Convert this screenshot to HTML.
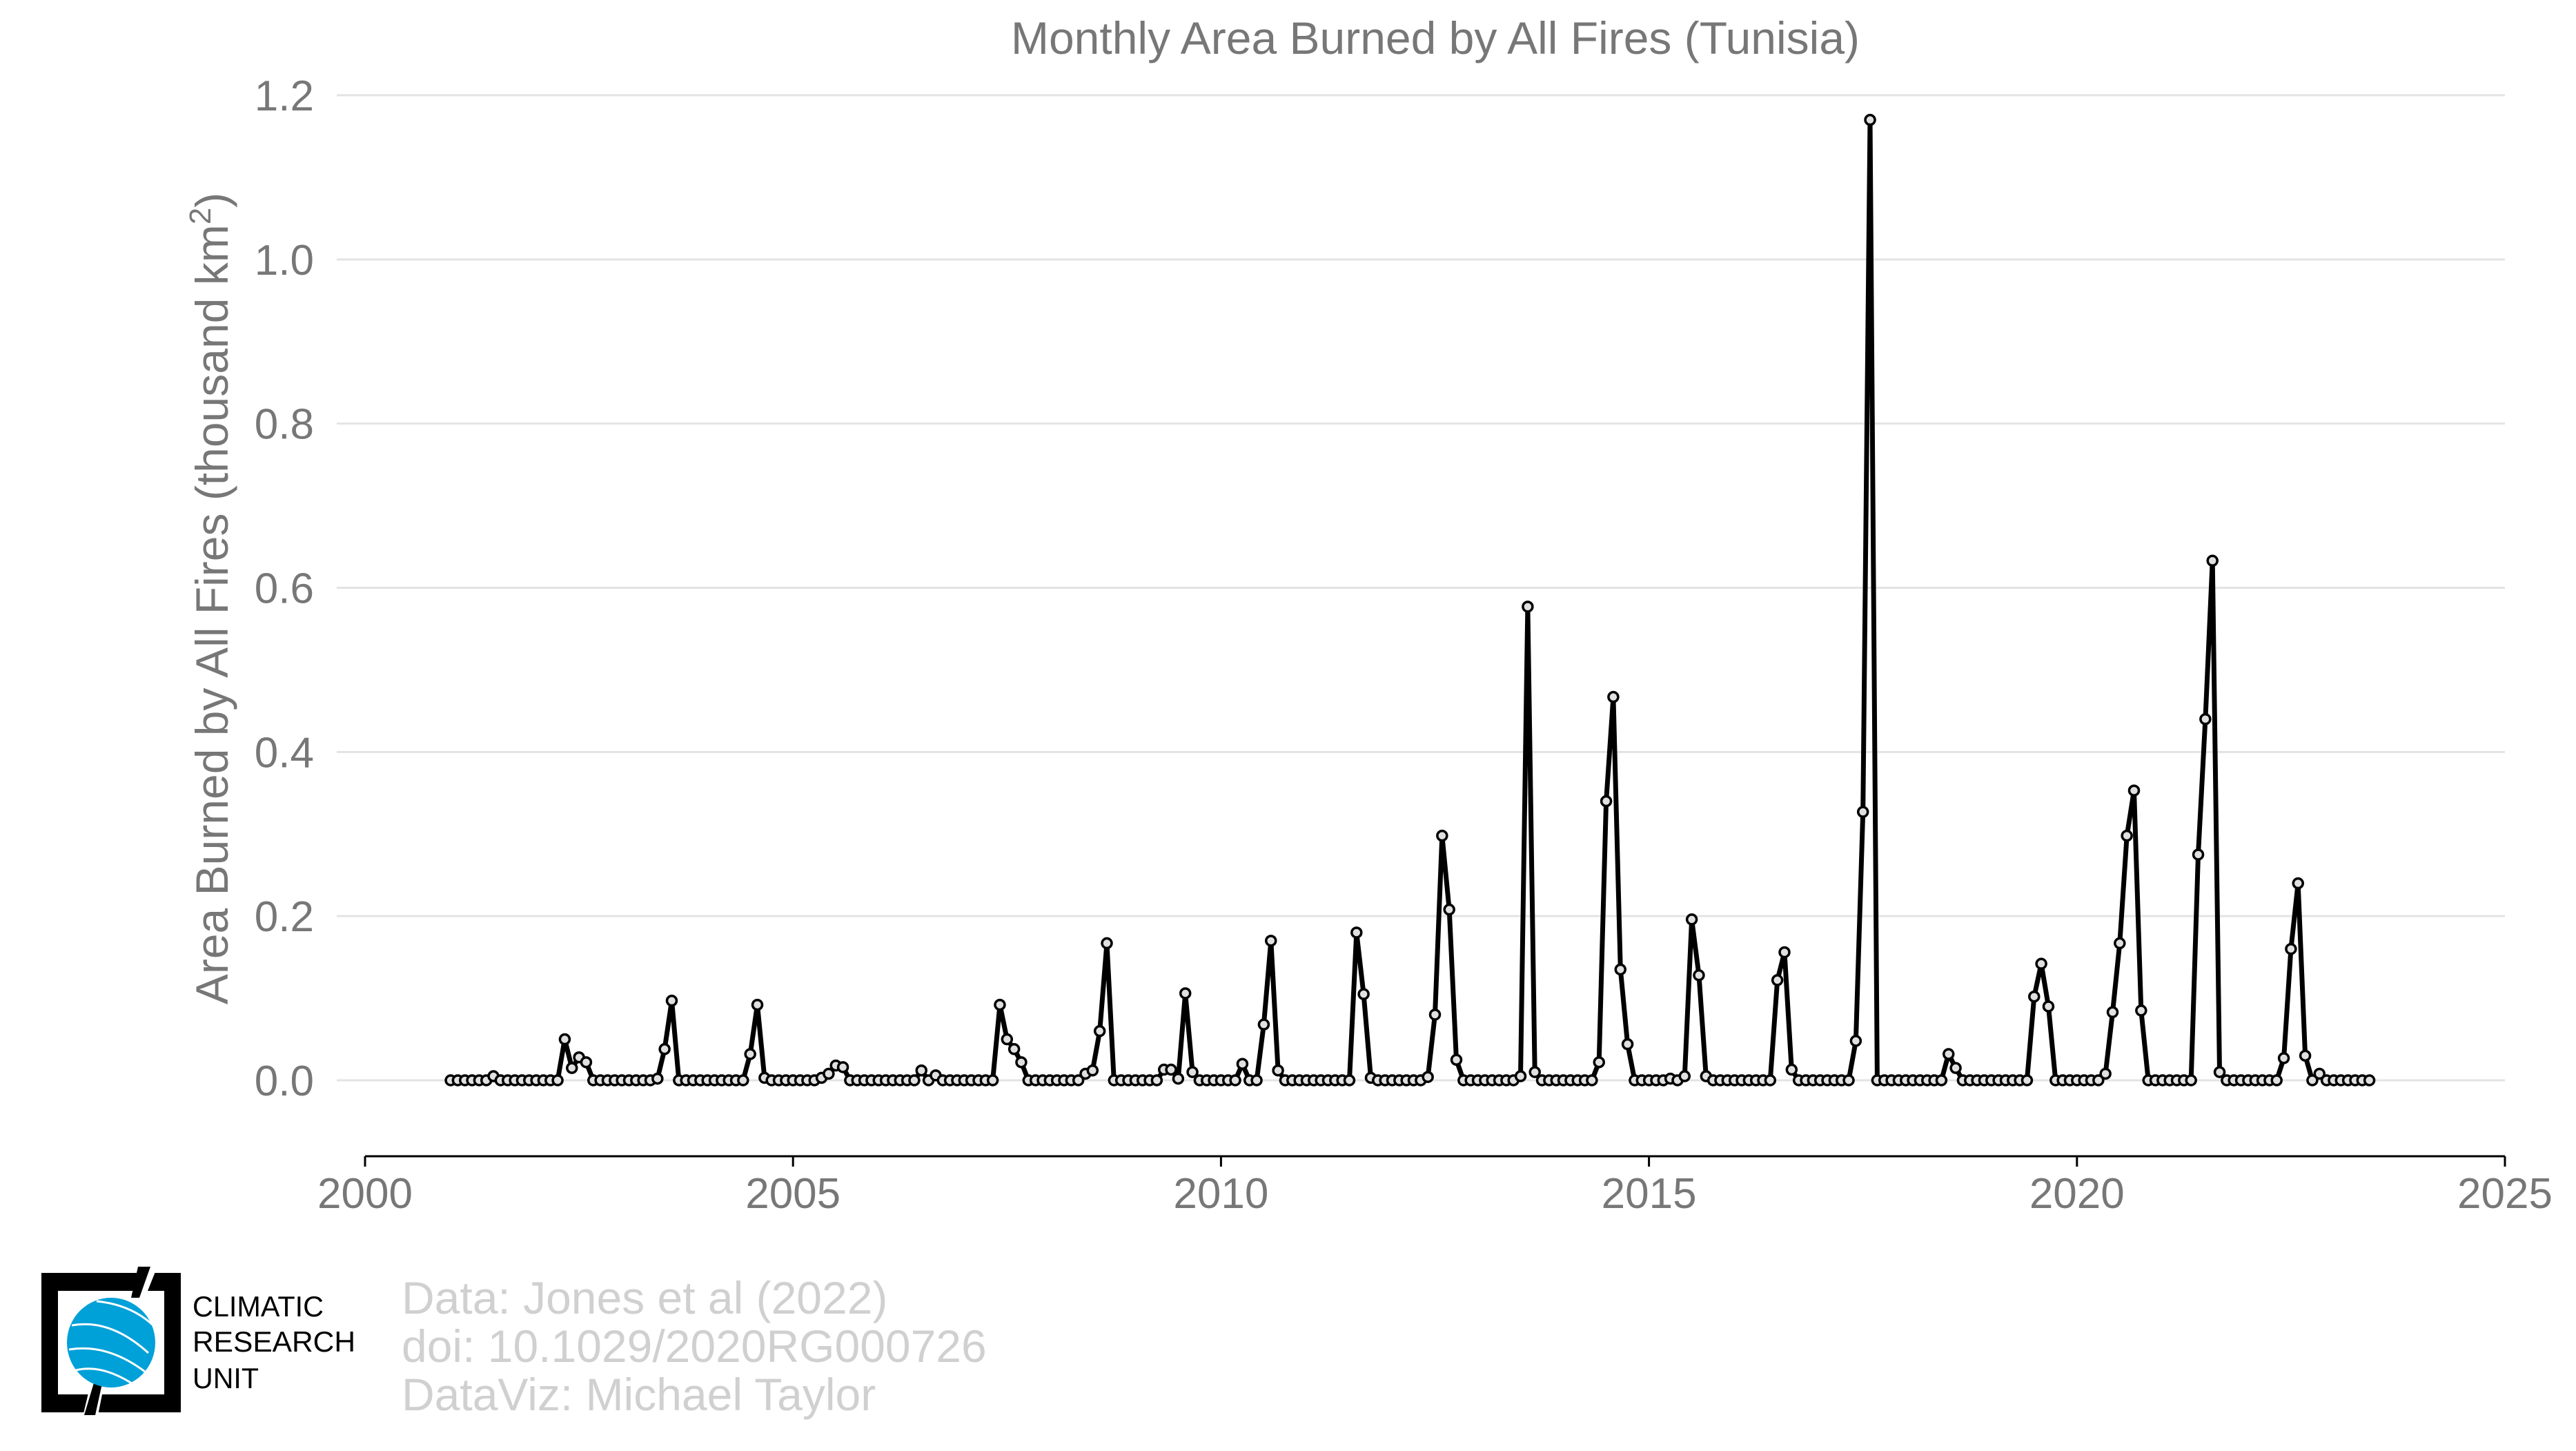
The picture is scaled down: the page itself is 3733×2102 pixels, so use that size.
<!DOCTYPE html>
<html><head><meta charset="utf-8"><style>
html,body{margin:0;padding:0;background:#fff;}
svg{display:block;font-family:"Liberation Sans",sans-serif;}
</style></head><body>
<svg id="chart" width="3733" height="2102" viewBox="0 0 3733 2102" xmlns="http://www.w3.org/2000/svg">
<rect width="3733" height="2102" fill="#fff"/>
<text x="2080" y="78" font-size="66" fill="#777" text-anchor="middle">Monthly Area Burned by All Fires (Tunisia)</text>
<g id="grid"></g>
<g id="yticks"></g>
<line x1="529" y1="1675" x2="3630" y2="1675" stroke="#000" stroke-width="3"/>
<g id="xticks"></g>
<text transform="translate(330,867) rotate(-90)" font-size="66" fill="#777" text-anchor="middle">Area Burned by All Fires (thousand km<tspan font-size="44" dy="-25">2</tspan><tspan dy="25">)</tspan></text>
<path id="line" fill="none" stroke="#000" stroke-width="7" stroke-linejoin="round"/>
<g id="points"></g>
<g>
<path d="M60,1844 H262 V2046 H60 Z M84,1870 V2020 H238 V1870 Z" fill="#000" fill-rule="evenodd"/>
<polygon points="200,1835 228,1835 210,1880 196,1880" fill="#fff"/>
<polygon points="200,1835 218,1835 202,1880 190,1880" fill="#000"/>
<polygon points="130,2010 150,2010 140,2060 118,2060" fill="#fff"/>
<polygon points="137,2000 149,2000 138,2050 122,2050" fill="#000"/>
<ellipse cx="161" cy="1945" rx="64" ry="65" fill="#00a0d8"/>
<path d="M104,1920 Q160,1910 215,1960 M100,1955 Q160,1945 220,1995 M110,1985 Q150,1975 200,2010 M140,1885 Q190,1890 222,1920" stroke="#fff" stroke-width="3" fill="none"/>
</g>
<text x="279" y="1907" font-size="42" fill="#000" textLength="190" lengthAdjust="spacingAndGlyphs">CLIMATIC</text>
<text x="279" y="1958" font-size="42" fill="#000" textLength="236" lengthAdjust="spacingAndGlyphs">RESEARCH</text>
<text x="279" y="2011" font-size="42" fill="#000" textLength="96" lengthAdjust="spacingAndGlyphs">UNIT</text>
<text x="582" y="1903" font-size="66" fill="#d0d0d0">Data: Jones et al (2022)</text>
<text x="582" y="1973" font-size="66" fill="#d0d0d0">doi: 10.1029/2020RG000726</text>
<text x="582" y="2043" font-size="66" fill="#d0d0d0">DataViz: Michael Taylor</text>
</svg>
<script>
const startYear = 2001;
const yTicks = [0, 0.2, 0.4, 0.6, 0.8, 1.0, 1.2];
const yTickLabels = ["0.0", "0.2", "0.4", "0.6", "0.8", "1.0", "1.2"];
const xTicks = [2000, 2005, 2010, 2015, 2020, 2025];
const v2001 = [0,0,0,0,0,0,0.005,0,0,0,0,0];
const v2002 = [0,0,0,0,0.05,0.015,0.028,0.022,0,0,0,0];
const v2003 = [0,0,0,0,0,0.002,0.038,0.097,0,0,0,0];
const v2004 = [0,0,0,0,0,0,0.032,0.092,0.003,0,0,0];
const v2005 = [0,0,0,0,0.003,0.008,0.018,0.016,0,0,0,0];
const v2006 = [0,0,0,0,0,0,0.012,0,0.006,0,0,0];
const v2007 = [0,0,0,0,0,0.092,0.05,0.038,0.022,0,0,0];
const v2008 = [0,0,0,0,0,0.008,0.012,0.06,0.167,0,0,0];
const v2009 = [0,0,0,0,0.013,0.013,0.002,0.106,0.01,0,0,0];
const v2010 = [0,0,0,0.02,0,0,0.068,0.17,0.012,0,0,0];
const v2011 = [0,0,0,0,0,0,0,0.18,0.105,0.003,0,0];
const v2012 = [0,0,0,0,0,0.004,0.08,0.298,0.208,0.025,0,0];
const v2013 = [0,0,0,0,0,0,0.005,0.577,0.01,0,0,0];
const v2014 = [0,0,0,0,0,0.022,0.34,0.467,0.135,0.044,0,0];
const v2015 = [0,0,0,0.002,0,0.005,0.196,0.128,0.005,0,0,0];
const v2016 = [0,0,0,0,0,0,0.122,0.156,0.013,0,0,0];
const v2017 = [0,0,0,0,0,0.048,0.327,1.17,0,0,0,0];
const v2018 = [0,0,0,0,0,0,0.032,0.015,0,0,0,0];
const v2019 = [0,0,0,0,0,0,0.102,0.142,0.09,0,0,0];
const v2020 = [0,0,0,0,0.008,0.083,0.167,0.298,0.353,0.085,0,0];
const v2021 = [0,0,0,0,0,0.275,0.44,0.633,0.01,0,0,0];
const v2022 = [0,0,0,0,0,0.027,0.16,0.24,0.03,0,0.008,0];
const v2023 = [0,0,0,0,0,0];
const values = [].concat(v2001,v2002,v2003,v2004,v2005,v2006,v2007,v2008,v2009,v2010,v2011,v2012,v2013,v2014,v2015,v2016,v2017,v2018,v2019,v2020,v2021,v2022,v2023);

const NS = "http://www.w3.org/2000/svg";
const X0 = 529, X1 = 3630, Y0 = 1565, Y1 = 138;
function xs(t){ return X0 + (t - 2000) / 25 * (X1 - X0); }
function ys(v){ return Y0 - v / 1.2 * (Y0 - Y1); }
function mk(tag, attrs, parent){ const e = document.createElementNS(NS, tag); for (const k in attrs) e.setAttribute(k, attrs[k]); parent.appendChild(e); return e; }

const grid = document.getElementById('grid'), yt = document.getElementById('yticks'), xt = document.getElementById('xticks');
yTicks.forEach((v, i) => {
  const g = mk('line', {x1: 488, x2: X1, y1: ys(v), y2: ys(v), stroke: '#e3e3e3', 'stroke-width': 3}, grid);
  
  
  const t = mk('text', {x: 455, y: ys(v) + 22, 'font-size': 62, fill: '#777', 'text-anchor': 'end'}, yt);
  t.textContent = yTickLabels[i];
  
  
});
xTicks.forEach(y => {
  const l = mk('line', {x1: xs(y), x2: xs(y), y1: 1675, y2: 1690, stroke: '#000', 'stroke-width': 3}, xt);
  
  
  const t = mk('text', {x: xs(y), y: 1750, 'font-size': 62, fill: '#777', 'text-anchor': 'middle'}, xt);
  t.textContent = y;
  
  
});
let d = '';
const pts = document.getElementById('points');
values.forEach((v, i) => {
  const t = startYear + i / 12;
  d += (i ? 'L' : 'M') + xs(t).toFixed(1) + ',' + ys(v).toFixed(1);
});
document.getElementById('line').setAttribute('d', d);
values.forEach((v, i) => {
  const t = startYear + i / 12;
  const c = mk('circle', {cx: xs(t), cy: ys(v), r: 7, fill: '#e0e0e0', stroke: '#000', 'stroke-width': 3.5}, pts);
  
  
});
</script>
</body></html>
